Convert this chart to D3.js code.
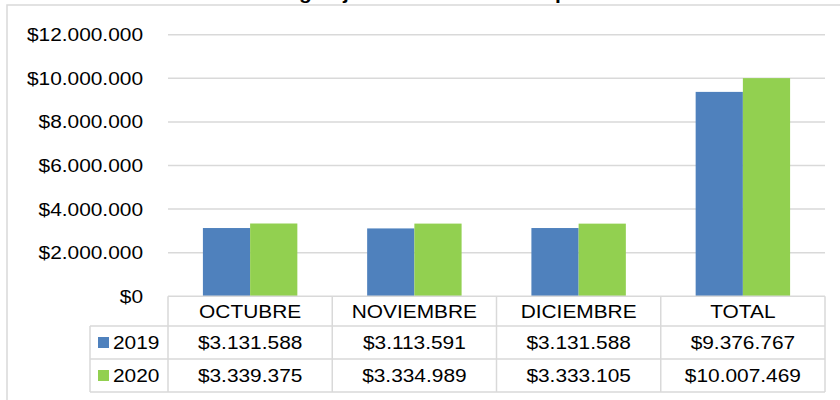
<!DOCTYPE html>
<html>
<head>
<meta charset="utf-8">
<script src="https://d3js.org/d3.v7.min.js"></script>
<style>
  body { margin: 0; background: #fff; }
  text { font-family: "Liberation Sans", Arial, sans-serif; fill: #000; }
</style>
</head>
<body>
<script>
var categories = ["OCTUBRE", "NOVIEMBRE", "DICIEMBRE", "TOTAL"];
var seriesNames = ["2019", "2020"];
var values2019 = [3131588, 3113591, 3131588, 9376767];
var values2020 = [3339375, 3334989, 3333105, 10007469];
var yTicks = [0, 2000000, 4000000, 6000000, 8000000, 10000000, 12000000];
var colors = ["#4f81bd", "#92d050"];

var W = 840, H = 400;
var SX = 1.16; // the source picture is a little wider than tall
var svg = d3.select("body").append("svg").attr("width", W).attr("height", H);

// outer chart frame
svg.append("rect").attr("x", 7).attr("y", 5).attr("width", W).attr("height", H)
   .attr("fill", "#fff").attr("stroke", "#d9d9d9").attr("stroke-width", 1.5);

// put a stretched text at (x, y)
function label(parent, tx, ty, str, anchor, size, weight) {
  var t = parent.append("text")
     .attr("transform", "translate(" + tx + "," + ty + ") scale(" + SX + ",1)")
     .attr("text-anchor", anchor || "start")
     .style("font-size", (size || 18) + "px")
     .text(str);
  if (weight) t.style("font-weight", weight);
  return t;
}

// title, cut off by the top edge
label(svg, 420, -1, "Gráfico 5. Consumo cargo fijo en la Sede A - Comportamiento trimestral", "middle", 18, "bold");

var left = 168, right = 825, top0 = 34.7, base = 296.3;

var x = d3.scaleBand().domain(categories).range([left, right]);
var y = d3.scaleLinear().domain([0, 12000000]).range([base, top0]);

var fmt = function(v) {
  return "$" + d3.format(",")(v).replace(/,/g, ".");
};

// gridlines
svg.append("g").selectAll("line").data(yTicks.slice(1)).enter().append("line")
   .attr("x1", left).attr("x2", right)
   .attr("y1", function(d) { return y(d); }).attr("y2", function(d) { return y(d); })
   .attr("stroke", "#d9d9d9").attr("stroke-width", 1.5);

// y axis labels
var ya = svg.append("g");
yTicks.forEach(function(t) {
  label(ya, 143, y(t) + 6.5, fmt(t), "end");
});

// bars
var groupW = x.bandwidth() * 0.575;
var xs = d3.scaleBand().domain(seriesNames).range([0, groupW]);
var series = [values2019, values2020];
series.forEach(function(vals, si) {
  svg.append("g").selectAll("rect").data(vals).enter().append("rect")
     .attr("x", function(d, i) { return x(categories[i]) + (x.bandwidth() - groupW) / 2 + xs(seriesNames[si]); })
     .attr("y", function(d) { return y(d); })
     .attr("width", xs.bandwidth())
     .attr("height", function(d) { return base - y(d); })
     .attr("fill", colors[si]);
});

// data table
var rowTop = [296.3, 326, 359, 392];
var tbl = svg.append("g");
var lineCol = "#d9d9d9";
function hline(x1, x2, yy) {
  tbl.append("line").attr("x1", x1).attr("x2", x2).attr("y1", yy).attr("y2", yy).attr("stroke", lineCol).attr("stroke-width", 1.5);
}
function vline(xx, y1, y2) {
  tbl.append("line").attr("x1", xx).attr("x2", xx).attr("y1", y1).attr("y2", y2).attr("stroke", lineCol).attr("stroke-width", 1.5);
}
hline(left, right, rowTop[0]);
[1, 2, 3].forEach(function(r) { hline(90, right, rowTop[r]); });
vline(90, rowTop[1], rowTop[3]);
categories.forEach(function(c) { vline(x(c), rowTop[0], rowTop[3]); });
vline(right, rowTop[0], rowTop[3]);

// header text
categories.forEach(function(c) {
  label(tbl, x(c) + x.bandwidth() / 2, (rowTop[0] + rowTop[1]) / 2 + 6.5, c, "middle");
});

// rows
series.forEach(function(vals, si) {
  var cy = (rowTop[si + 1] + rowTop[si + 2]) / 2;
  tbl.append("rect").attr("x", 98).attr("y", cy - 5.5).attr("width", 11).attr("height", 11).attr("fill", colors[si]);
  label(tbl, 113, cy + 6.5, seriesNames[si], "start");
  vals.forEach(function(v, i) {
    label(tbl, x(categories[i]) + x.bandwidth() / 2, cy + 6.5, fmt(v), "middle");
  });
});
</script>
</body>
</html>
